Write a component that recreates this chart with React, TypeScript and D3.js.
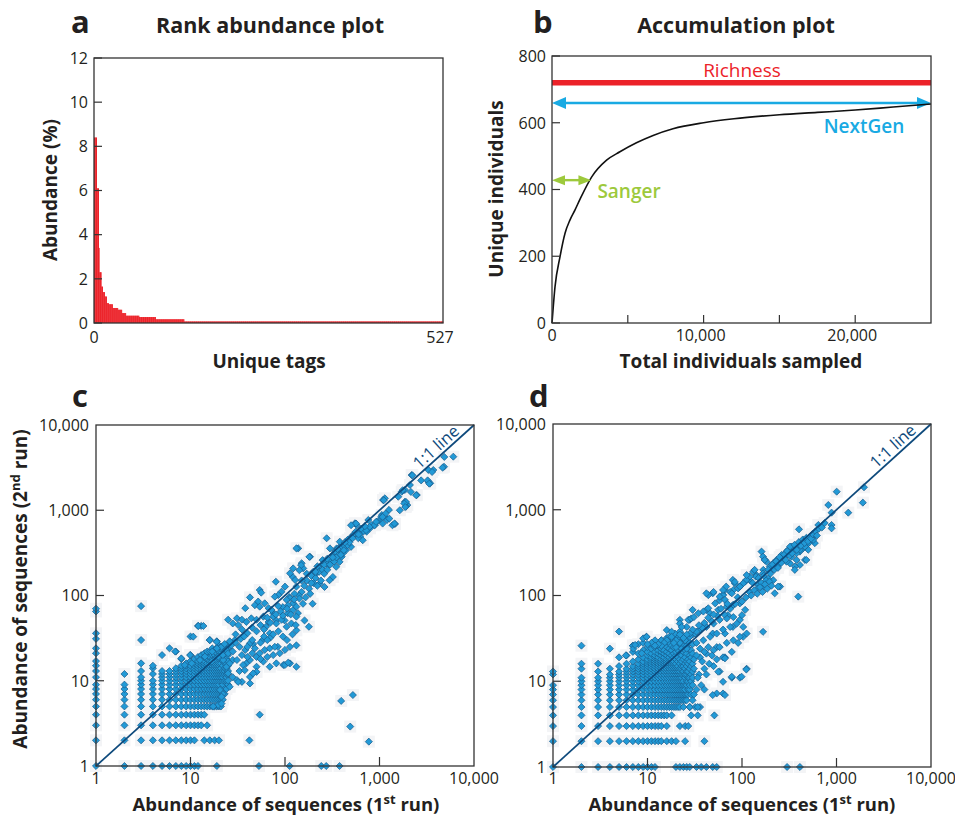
import React from 'react';
import * as d3 from 'd3';

const FONT = "'Open Sans', 'DejaVu Sans', sans-serif";
const INK = '#231f20';

// ---------- Panel a: rank abundance (run-length: [number of tags, abundance %]) ----------
const rankRuns: [number, number][] = [
  [4, 8.4], [3, 6.1], [1, 3.4], [3, 2.3], [2, 1.65], [3, 1.4], [3, 1.2], [3, 0.9],
  [6, 0.85], [8, 0.68], [6, 0.6], [6, 0.45], [20, 0.33], [25, 0.27], [43, 0.17], [391, 0.07],
];
const yTicksA = [0, 2, 4, 6, 8, 10, 12];
const xLabelsA = [0, 527];

// ---------- Panel b: accumulation ----------
const sampled = [0, 200, 530, 860, 1190, 1520, 1850, 2620, 3600, 4480, 5570, 6670, 7980, 10000, 12000, 15000, 17500, 20000, 22500, 25000];
const uniqueInd = [0, 109, 199, 269, 309, 339, 371, 438, 488, 513, 540, 562, 582, 600, 612, 624, 631, 638, 647, 656];
const richness = 720;
const nextGenLevel = 659;
const nextGenRange = [0, 25000];
const sangerLevel = 428;
const sangerRange = [0, 2600];
const yTicksB = [0, 200, 400, 600, 800];
const xTickMarksB = [5000, 10000, 15000, 20000];
const xLabelsB = [0, 10000, 20000];

// ---------- Panels c/d: log-log scatter ----------
const logTickMarks = [10, 100, 1000];
const logLabels = [1, 10, 100, 1000, 10000];

// integer columns: [1st-run count, list of 2nd-run counts]
const gridC: [number, number[]][] = [
  [1, [1, 2, 3, 4, 5, 6, 7, 8, 9, 11, 13, 15, 17, 21, 24, 31, 36, 65, 70]],
  [2, [1, 2, 3, 4, 5, 6, 7, 8, 9, 12]],
  [3, [1, 2, 3, 4, 5, 6, 7, 8, 9, 10, 11, 13, 16, 30, 75]],
  [4, [1, 2, 3, 4, 5, 6, 7, 8, 9, 10, 12, 14, 15]],
  [5, [1, 2, 3, 4, 5, 6, 7, 8, 9, 10, 11, 12, 13, 20]],
  [6, [1, 2, 3, 4, 5, 6, 7, 8, 9, 10, 11, 12, 13, 24]],
  [7, [1, 2, 3, 4, 5, 6, 7, 8, 9, 10, 11, 12, 13, 14, 22]],
  [8, [1, 2, 3, 4, 5, 6, 7, 8, 9, 10, 11, 12, 13, 14, 15, 18]],
  [9, [1, 2, 3, 4, 5, 6, 7, 8, 9, 10, 11, 12, 13, 14, 15, 16]],
  [10, [1, 2, 3, 4, 5, 6, 7, 8, 9, 10, 11, 12, 13, 14, 15, 17, 20, 33]],
  [11, [1, 2, 3, 4, 5, 6, 7, 8, 9, 10, 11, 12, 13, 14, 15, 16, 18]],
  [12, [1, 3, 4, 5, 6, 7, 8, 9, 10, 11, 12, 13, 14, 15, 16, 17, 19, 44]],
  [13, [3, 4, 5, 6, 7, 8, 9, 10, 11, 12, 13, 14, 15, 16, 17, 18, 20, 44]],
  [14, [2, 4, 5, 6, 7, 8, 9, 10, 11, 12, 13, 14, 15, 16, 17, 19, 21]],
  [15, [3, 5, 6, 7, 8, 9, 10, 11, 12, 13, 14, 15, 16, 18, 20, 22]],
  [16, [2, 5, 6, 7, 8, 9, 10, 11, 12, 13, 14, 15, 16, 17, 19, 22, 30]],
  [17, [5, 6, 7, 8, 9, 10, 11, 12, 13, 14, 15, 16, 17, 18, 20, 24]],
  [18, [2, 5, 6, 7, 8, 9, 10, 11, 12, 13, 14, 15, 16, 18, 20, 23]],
  [19, [1, 5, 6, 7, 8, 9, 10, 11, 12, 13, 14, 15, 16, 17, 19, 21, 24, 29]],
  [20, [2, 5, 6, 7, 8, 9, 10, 11, 12, 13, 14, 15, 16, 18, 20, 22, 26]],
  [21, [5, 6, 7, 8, 10, 11, 12, 13, 14, 16, 18, 21, 25]],
  [22, [6, 7, 9, 10, 11, 12, 13, 15, 17, 20, 23]],
  [23, [7, 8, 10, 12, 13, 14, 16, 19, 22, 25]],
  [24, [8, 10, 11, 12, 14, 16, 18, 23]],
  [25, [9, 10, 12, 13, 15, 17, 20, 24, 27]],
];

const cloudC: [number, number][] = [
  [6040, 4250], [4820, 3240], [3710, 2965], [3290, 2965], [3290, 2160], [3440, 2070], [2190, 2590], [2480, 1510],
  [2100, 1980], [1860, 1730], [1720, 1650], [1580, 1440], [1860, 1260], [1970, 1150], [1900, 1100], [1140, 1380],
  [1090, 1320], [1260, 1010], [1460, 690], [1060, 880], [1140, 840], [1200, 770], [1010, 770], [935, 735],
  [895, 670], [826, 670], [793, 614], [762, 770], [731, 561], [674, 561], [622, 490], [597, 469], [574, 670],
  [550, 703], [529, 513], [508, 490], [487, 469], [468, 428], [450, 391], [398, 391], [380, 428], [414, 357],
  [352, 357], [366, 299], [398, 285], [338, 273], [312, 249], [287, 228], [276, 469], [299, 357], [254, 228],
  [234, 208], [184, 285], [138, 357], [132, 357], [150, 239], [156, 208], [122, 208], [199, 190], [216, 182],
  [2230, 2570], [2760, 2240], [3230, 2240], [3360, 2050], [3600, 2810], [4650, 3160], [4850, 4220], [1910, 1250],
  [1760, 1720], [2150, 1640], [1830, 1200], [1870, 1090], [2440, 1500], [1640, 1000], [1110, 1310], [1160, 914],
  [1040, 835], [1080, 835], [1270, 798], [1370, 667], [1440, 698], [1080, 698], [885, 667], [920, 730], [785, 638],
  [720, 584], [665, 445], [610, 533], [565, 698], [500, 667], [545, 533], [500, 372], [443, 406], [443, 341],
  [408, 311], [378, 248], [348, 217], [321, 165], [296, 151], [262, 126], [233, 138], [206, 181], [148, 227],
  [142, 198], [121, 165], [181, 284],
  [160, 130], [170, 150], [190, 170], [210, 160], [230, 190], [250, 200], [270, 240], [300, 260], [320, 300],
  [180, 120], [200, 140], [150, 110], [140, 100], [165, 95], [185, 105], [220, 130], [240, 150], [260, 180],
  [280, 200], [330, 250], [360, 300], [400, 330], [420, 370], [460, 390], [350, 280],
  [220, 220], [260, 230], [300, 230], [340, 330], [380, 360], [420, 340], [460, 450], [480, 420], [520, 470],
  [560, 560], [600, 520], [640, 610], [700, 650], [150, 150], [170, 180], [190, 140], [210, 190], [250, 260],
  [280, 270], [320, 280], [360, 350], [390, 300], [430, 420],
  [111, 96], [126, 105], [142, 92], [155, 80], [196, 80], [161, 51], [179, 43], [121, 67], [137, 62], [107, 62],
  [99, 51], [95, 73], [75, 62], [81, 51], [63, 43], [69, 36], [58, 30], [84, 25], [46, 27], [50, 19], [39, 16],
  [33, 13], [28, 17.5], [24, 14.6], [28, 11], [26, 8.5], [22, 7], [19.6, 5.2], [17.4, 5],
  [113, 182], [128, 152], [80, 145], [132, 127], [100, 127], [92, 111], [54, 116], [56, 108], [85, 101], [78, 97],
  [42.6, 95], [113, 93], [104, 89], [122, 81], [108, 77], [132, 74], [52, 85], [48, 77], [54, 74], [61, 81],
  [67, 71], [72, 67.6], [38, 71], [31, 54], [25, 52], [35, 52], [28, 47], [32, 45], [39, 49], [44, 54], [50, 52],
  [59, 56.5], [67, 49], [75, 56.5], [81, 47], [92, 52], [104, 43], [117, 47], [132, 56.5], [132, 39],
  [12.1, 43.9], [13.7, 43.9], [10.7, 32.9], [16, 30], [18.9, 28.7], [21.3, 25], [24, 23], [27, 26], [29.5, 30],
  [33, 25], [38, 23], [42.6, 27.5], [48, 24], [54, 21], [61, 23], [69, 24], [78, 25], [88, 21], [100, 23],
  [113, 25], [132, 26], [6.9, 22], [8, 18.3], [9.9, 20], [8.7, 15.3], [10.3, 16], [12.6, 17.5], [14.2, 19.2],
  [16.8, 16.8], [19.7, 19.2], [22.2, 17.5], [26, 16], [31, 17.5], [36, 15.3], [42.6, 17.5], [50, 14.6], [59, 16.8],
  [69, 14.6], [81, 16], [96, 15.3], [113, 16], [132, 14.6], [100, 15.3], [108, 16.3], [50, 12.7], [42.6, 11.1],
  [25, 12.2], [31, 10.2], [35, 9.7], [42.6, 9.3], [20.5, 7.8], [21.3, 6.5], [21.3, 5.4], [31.9, 9.7], [37.5, 13.3],
  [46, 12.2],
  [30, 35], [35, 40], [40, 36], [45, 42], [50, 38], [55, 45], [60, 40], [65, 55], [70, 48], [80, 60], [90, 65],
  [95, 58], [85, 75], [105, 70], [115, 60], [125, 90], [60, 33], [70, 32], [45, 30], [55, 28], [65, 30], [75, 35],
  [85, 38], [95, 33], [105, 30], [120, 35], [130, 45], [22, 20], [25, 21], [28, 22], [35, 20], [40, 19], [45, 21],
  [55, 18], [65, 19], [75, 20], [17, 22], [19, 24], [23, 27], [26, 29], [30, 28], [34, 31], [37, 33], [40, 25],
  [54, 4], [42, 2], [393, 5.8], [523, 6.8], [490, 2.9], [771, 1.93], [53, 1], [112, 1], [242, 1], [273, 1], [378, 1],
];

const gridD: [number, number[]][] = [
  [1, [1, 2, 3, 4, 5, 6, 7, 8, 9, 12, 13]],
  [2, [1, 2, 3, 4, 5, 6, 7, 8, 9, 10, 11, 14, 16, 26]],
  [3, [1, 2, 3, 4, 5, 6, 7, 8, 9, 10, 11, 13, 16]],
  [4, [1, 2, 3, 4, 5, 6, 7, 8, 9, 10, 11, 12, 14, 24]],
  [5, [1, 2, 3, 4, 5, 6, 7, 8, 9, 10, 11, 12, 13, 15, 19, 38]],
  [6, [1, 2, 3, 4, 5, 6, 7, 8, 9, 10, 11, 12, 13, 14, 16, 20]],
  [7, [1, 2, 3, 4, 5, 6, 7, 8, 9, 10, 11, 12, 13, 14, 15, 17, 22, 26]],
  [8, [1, 2, 3, 4, 5, 6, 7, 8, 9, 10, 11, 12, 13, 14, 15, 16, 18, 21, 27]],
  [9, [1, 2, 3, 4, 5, 6, 7, 8, 9, 10, 11, 12, 13, 14, 15, 16, 17, 19, 23]],
  [10, [1, 2, 3, 4, 5, 6, 7, 8, 9, 10, 11, 12, 13, 14, 15, 16, 17, 18, 20, 22, 25]],
  [11, [1, 2, 3, 4, 5, 6, 7, 8, 9, 10, 11, 12, 13, 14, 15, 16, 17, 18, 19, 21, 24]],
  [12, [1, 2, 3, 4, 5, 6, 7, 8, 9, 10, 11, 12, 13, 14, 15, 16, 17, 18, 19, 20, 22, 25]],
  [13, [2, 3, 4, 5, 6, 7, 8, 9, 10, 11, 12, 13, 14, 15, 16, 17, 18, 19, 21, 23, 26]],
  [14, [2, 3, 4, 5, 6, 7, 8, 9, 10, 11, 12, 13, 14, 15, 16, 17, 18, 20, 22, 24, 28, 30]],
  [15, [4, 5, 6, 7, 8, 9, 10, 11, 12, 13, 14, 15, 16, 17, 18, 19, 21, 23, 27]],
  [16, [2, 3, 4, 5, 6, 7, 8, 9, 10, 11, 12, 13, 14, 15, 16, 17, 18, 20, 22, 25, 29, 32]],
  [17, [5, 6, 7, 8, 9, 10, 11, 12, 13, 14, 15, 16, 17, 18, 19, 21, 24, 28]],
  [18, [2, 4, 5, 6, 7, 8, 9, 10, 11, 12, 13, 14, 15, 16, 17, 18, 20, 23, 26, 31]],
  [19, [5, 6, 7, 8, 9, 10, 11, 12, 13, 14, 15, 16, 17, 19, 21, 25, 30, 35]],
  [20, [1, 2, 5, 6, 7, 8, 9, 10, 11, 12, 13, 14, 15, 16, 18, 20, 22, 27, 33]],
  [21, [5, 6, 7, 8, 9, 10, 11, 12, 13, 14, 15, 17, 19, 23, 28]],
  [22, [1, 3, 5, 6, 7, 8, 9, 10, 11, 12, 13, 14, 16, 18, 21, 25, 31, 38]],
  [23, [6, 7, 8, 9, 10, 11, 12, 14, 15, 17, 20, 24, 29]],
  [24, [1, 5, 6, 7, 8, 9, 10, 12, 13, 15, 18, 22, 27, 34]],
  [25, [2, 3, 6, 7, 8, 9, 11, 12, 14, 16, 19, 23, 30]],
  [26, [1, 6, 7, 9, 10, 12, 13, 15, 17, 21, 26]],
  [27, [3, 7, 8, 10, 11, 13, 16, 18, 24, 32]],
  [28, [1, 5, 8, 9, 11, 14, 17, 20, 28]],
  [29, [4, 7, 10, 12, 15, 19, 23]],
  [30, [6, 9, 11, 13, 16, 21, 27, 35]],
];

const cloudD: [number, number][] = [
  [1005, 1625], [1954, 1828], [1900, 1210], [1333, 925], [819, 1136], [887, 925], [887, 664], [887, 607],
  [642, 664], [401, 591], [567, 485], [523, 425], [482, 388], [590, 408], [502, 342], [445, 356], [410, 325],
  [378, 356], [335, 372], [309, 342], [298, 299], [263, 284], [335, 284], [378, 260], [464, 260], [410, 227],
  [364, 218], [322, 237], [274, 260], [243, 227], [214, 218], [197, 189], [168, 199], [161, 325], [175, 260],
  [142, 173], [131, 189], [121, 151], [108, 145], [95, 127], [84, 138], [81, 116], [75, 110], [66, 116],
  [63, 102], [214, 151], [253, 127], [168, 127], [394, 97], [148, 133], [189, 157],
  [545, 509], [567, 445], [505, 407], [480, 260], [463, 372], [349, 356], [410, 340], [378, 311], [323, 372],
  [296, 325], [362, 199], [296, 248], [262, 297], [232, 260], [214, 238], [197, 217], [182, 248], [167, 284],
  [174, 260], [241, 127], [222, 106], [167, 181], [136, 199], [140, 166], [121, 166], [111, 152], [103, 139],
  [91, 121], [80, 152], [68, 127], [63, 101], [49, 106], [44, 101], [42, 68], [58, 88], [80, 77], [71, 59],
  [95, 52], [80, 43], [66, 36], [103, 33], [91, 28], [66, 19], [54, 25], [49, 36], [30, 68], [28, 52], [26, 43],
  [22, 52], [19.5, 36], [22, 28], [17, 33], [14, 30], [9.7, 33], [9, 28], [7, 26], [5.9, 20],
  [9, 31.6], [9.8, 33], [7.1, 24], [7.4, 26.5], [8.7, 21.2], [16, 39.5], [18, 37.8], [22, 47], [23, 43], [27, 52],
  [29, 54], [42, 106], [50, 110], [63, 116], [78, 106], [84, 144], [95, 127], [112, 173],
  [58, 97], [66, 89], [52, 81], [44, 71], [39, 65], [34.5, 62], [31, 56], [46, 62], [56, 68], [69, 74], [81, 78],
  [95, 81], [108, 68], [100, 59], [81, 56], [69, 54], [58, 52], [50, 47], [42, 43], [36, 40], [32, 36], [28, 33],
  [25, 30], [22, 28], [20, 25], [26, 24], [33, 28], [39, 30], [46, 33], [54, 36], [63, 40], [75, 43], [88, 47],
  [103, 43], [112, 36], [95, 33], [81, 30], [69, 28], [58, 25], [50, 23], [42, 21], [36, 19], [31, 18], [54, 18],
  [63, 19], [78, 22], [50, 15], [58, 13], [66, 18.5], [78, 11], [95, 11], [112, 14], [54, 7.2], [63, 7.2],
  [36, 5], [32, 5],
  [120, 110], [130, 140], [145, 120], [150, 160], [160, 140], [170, 170], [180, 150], [190, 200], [200, 180],
  [210, 230], [220, 200], [230, 250], [240, 210], [250, 280], [260, 240], [280, 300], [290, 260], [300, 330],
  [320, 290], [340, 310], [360, 390], [380, 340], [400, 420], [420, 380], [440, 450], [460, 410], [480, 470],
  [500, 430], [520, 480], [540, 460], [560, 520], [600, 560], [620, 500], [650, 600], [700, 620], [750, 700],
  [110, 95], [125, 100], [135, 115], [145, 105], [155, 125], [165, 110], [175, 135], [185, 120], [195, 145],
  [205, 130], [100, 85], [90, 95], [85, 80], [75, 70], [70, 80], [65, 60], [60, 70], [55, 58], [50, 60], [48, 50],
  [44, 55], [40, 48], [38, 42], [35, 45], [33, 38], [30, 40], [28, 36], [26, 35], [24, 32], [22, 35], [20, 30],
  [19, 28], [18, 33], [16, 30], [15, 28], [14, 26], [13, 27], [12, 30], [11, 28], [10, 27], [12, 26],
  [35, 12], [40, 14], [45, 16], [38, 17], [42, 12], [48, 20], [44, 25], [40, 22], [36, 24], [33, 20], [31, 14],
  [34, 11], [37, 9], [33, 8], [31, 7], [40, 8],
  [49, 6.9], [66, 6.9], [63, 9.85], [56, 12.9], [78, 11.3], [99, 11.3], [111, 13.7], [167, 37.7],
  [33, 1], [37, 1], [42, 1], [49, 1], [54, 1], [300, 1], [410, 1], [40, 2], [34, 4], [51, 4], [28, 5], [34, 5],
];

// ---------- helpers ----------
const fmt = d3.format(',');
const markerPath = d3.symbol().type(d3.symbolSquare).size(25)() as string;

function expandRuns(runs: [number, number][]) {
  return runs.flatMap(([n, v]) => Array.from({ length: n }, () => v));
}
function expandGrid(grid: [number, number[]][]) {
  return grid.flatMap(([x, ys]) => ys.map((y) => [x, y] as [number, number]));
}

const T = (props: any) => (
  <text fontFamily={FONT} fill={INK} {...props} />
);

const LABEL = 19;
const TITLE = 21.5;
const TICK = 16;

function PanelA() {
  const values = expandRuns(rankRuns);
  const x = d3.scaleBand<number>().domain(d3.range(values.length)).range([94, 443]).padding(0);
  const y = d3.scaleLinear().domain([0, 12]).range([323, 58]);
  const xl = d3.scaleLinear().domain([0, 527]).range([94, 443]);
  return (
    <g>
      <T x={71} y={33} fontSize={31} fontWeight={700}>a</T>
      <T x={270} y={33} fontSize={TITLE} fontWeight={700} textAnchor="middle">Rank abundance plot</T>
      {values.map((v, i) => (
        <rect key={i} x={x(i)} y={y(v)} width={x.bandwidth() + 0.35} height={y(0) - y(v)} fill="#ec2229" />
      ))}
      {yTicksA.map((t) => (
        <g key={t}>
          <line x1={94} x2={102} y1={y(t)} y2={y(t)} stroke="#333" strokeWidth={1.2} />
          <T x={88} y={y(t)} dy="0.36em" fontSize={TICK} textAnchor="end">{t}</T>
        </g>
      ))}
      {xLabelsA.map((t) => (
        <T key={t} x={t === 0 ? xl(t) : xl(t) - 3} y={343} fontSize={TICK} textAnchor="middle">{t}</T>
      ))}
      <rect x={94} y={58} width={349} height={265} fill="none" stroke="#333" strokeWidth={1.3} />
      <T x={269} y={368} fontSize={LABEL} fontWeight={700} textAnchor="middle">Unique tags</T>
      <T transform="translate(57,190) rotate(-90)" fontSize={LABEL} fontWeight={700} textAnchor="middle">Abundance (%)</T>
    </g>
  );
}

function arrowHead(x: number, y: number, dir: number, len: number, half: number) {
  return `M${x},${y}L${x - dir * len},${y - half}L${x - dir * len},${y + half}Z`;
}

function PanelB() {
  const x = d3.scaleLinear().domain([0, 25000]).range([552, 931]);
  const y = d3.scaleLinear().domain([0, 800]).range([323, 56]);
  const line = d3.line<number>().x((_, i) => x(sampled[i])).y((d) => y(d)).curve(d3.curveMonotoneX);
  const blue = '#19aae3';
  const green = '#9dc93c';
  const red = '#ec2229';
  const ny = y(nextGenLevel);
  const sy = y(sangerLevel);
  return (
    <g>
      <T x={533} y={33} fontSize={31} fontWeight={700}>b</T>
      <T x={736} y={33} fontSize={TITLE} fontWeight={700} textAnchor="middle">Accumulation plot</T>
      <line x1={x(0)} x2={x(25000)} y1={y(richness)} y2={y(richness)} stroke={red} strokeWidth={5.5} />
      <T x={742} y={77} fontSize={19} fill={red} textAnchor="middle">Richness</T>
      <line x1={x(nextGenRange[0]) + 10} x2={x(nextGenRange[1]) - 10} y1={ny} y2={ny} stroke={blue} strokeWidth={2.4} />
      <path d={arrowHead(x(nextGenRange[0]), ny, -1, 14, 6)} fill={blue} />
      <path d={arrowHead(x(nextGenRange[1]), ny, 1, 14, 6)} fill={blue} />
      <T x={864} y={133} fontSize={19} fontWeight={600} fill={blue} textAnchor="middle">NextGen</T>
      <path d={line(uniqueInd) as string} fill="none" stroke="#111" strokeWidth={1.6} />
      <line x1={x(sangerRange[0]) + 10} x2={x(sangerRange[1]) - 10} y1={sy} y2={sy} stroke={green} strokeWidth={2.4} />
      <path d={arrowHead(x(sangerRange[0]), sy, -1, 13, 5)} fill={green} />
      <path d={arrowHead(x(sangerRange[1]), sy, 1, 13, 5)} fill={green} />
      <T x={629} y={198} fontSize={19} fontWeight={600} fill={green} textAnchor="middle">Sanger</T>
      {yTicksB.map((t) => (
        <g key={t}>
          <line x1={552} x2={560} y1={y(t)} y2={y(t)} stroke="#333" strokeWidth={1.2} />
          <T x={546} y={y(t)} dy="0.36em" fontSize={TICK} textAnchor="end">{t}</T>
        </g>
      ))}
      {xTickMarksB.map((t) => (
        <line key={t} x1={x(t)} x2={x(t)} y1={323} y2={315} stroke="#333" strokeWidth={1.2} />
      ))}
      {xLabelsB.map((t) => (
        <T key={t} x={x(t) - (t === 0 ? 0 : 3)} y={341} fontSize={TICK} textAnchor="middle">{fmt(t)}</T>
      ))}
      <rect x={552} y={56} width={379} height={267} fill="none" stroke="#333" strokeWidth={1.3} />
      <T x={741} y={368} fontSize={LABEL} fontWeight={700} textAnchor="middle">Total individuals sampled</T>
      <T transform="translate(503,189) rotate(-90)" fontSize={LABEL} fontWeight={700} textAnchor="middle">Unique individuals</T>
    </g>
  );
}

function Scatter({ letter, x0, x1, y0, y1, grid, cloud, showYLabel, labelX }: any) {
  const x = d3.scaleLog().domain([1, 10000]).range([x0, x1]);
  const y = d3.scaleLog().domain([1, 10000]).range([y0, y1]);
  const pts: [number, number][] = [...expandGrid(grid), ...cloud];
  const angle = (Math.atan2(y(1) - y(10000), x(10000) - x(1)) * 180) / Math.PI;
  const lv = 4600;
  const navy = '#0e4a7c';
  return (
    <g>
      <T x={x0 - 24} y={407} fontSize={31} fontWeight={700}>{letter}</T>
      {pts.map(([a, b], i) => (
        <rect key={'h' + i} x={x(a) - 6} y={y(b) - 6} width={12} height={12} fill="#f3f4f6" />
      ))}
      {pts.map(([a, b], i) => (
        <path key={i} d={markerPath} transform={`translate(${x(a)},${y(b)}) rotate(45)`} fill="#2199d6" stroke="#185d8d" strokeWidth={0.7} />
      ))}
      <line x1={x(1)} y1={y(1)} x2={x(10000)} y2={y(10000)} stroke={navy} strokeWidth={1.7} />
      <T transform={`translate(${x(lv)},${y(lv)}) rotate(${-angle})`} dy={-3.5} fontSize={16.5} fill={navy} textAnchor="middle">1:1 line</T>
      {logTickMarks.map((t) => (
        <g key={t}>
          <line x1={x0} x2={x0 + 8} y1={y(t)} y2={y(t)} stroke="#333" strokeWidth={1.2} />
          <line x1={x(t)} x2={x(t)} y1={y0} y2={y0 - 9} stroke="#333" strokeWidth={1.2} />
        </g>
      ))}
      {logLabels.map((t) => (
        <g key={t}>
          <T x={x0 - 7} y={y(t)} dy="0.36em" fontSize={TICK} textAnchor="end">{fmt(t)}</T>
          <T x={x(t)} y={784} fontSize={TICK} textAnchor="middle">{fmt(t)}</T>
        </g>
      ))}
      <rect x={x0} y={y1} width={x1 - x0} height={y0 - y1} fill="none" stroke="#333" strokeWidth={1.3} />
      <T x={labelX} y={811} fontSize={18.5} fontWeight={700} textAnchor="middle">
        <tspan>Abundance of sequences (1</tspan>
        <tspan dy={-7} fontSize={13}>st</tspan>
        <tspan dy={7}> run)</tspan>
      </T>
      {showYLabel && (
        <T transform="translate(27,589) rotate(-90)" fontSize={LABEL} fontWeight={700} textAnchor="middle">
          <tspan>Abundance of sequences (2</tspan>
          <tspan dy={-7} fontSize={13}>nd</tspan>
          <tspan dy={7}> run)</tspan>
        </T>
      )}
    </g>
  );
}

export default function App() {
  return (
    <svg width={955} height={817} viewBox="0 0 955 817" style={{ position: 'absolute', left: 0, top: 0, background: '#fff' }}>
      <rect width={955} height={817} fill="#fff" />
      <PanelA />
      <PanelB />
      <Scatter letter="c" x0={96} x1={474} y0={766} y1={425} grid={gridC} cloud={cloudC} showYLabel labelX={286} />
      <Scatter letter="d" x0={553} x1={931} y0={767} y1={424} grid={gridD} cloud={cloudD} showYLabel={false} labelX={742} />
    </svg>
  );
}
